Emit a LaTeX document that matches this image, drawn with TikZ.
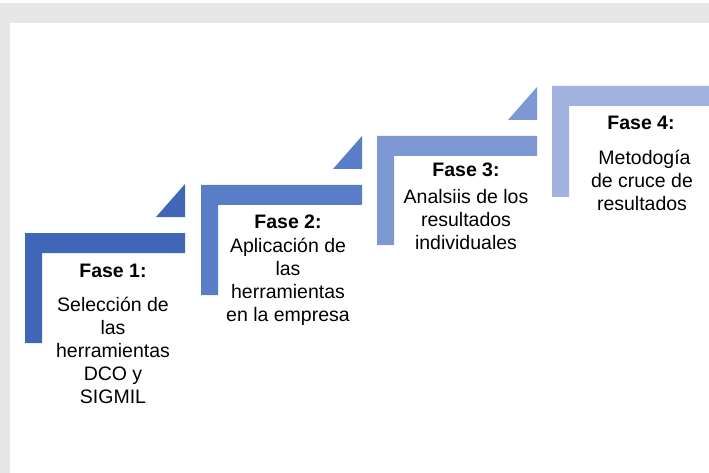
\documentclass[tikz,border=0pt]{standalone}
\usepackage{fontspec}
\setmainfont{Liberation Sans}
\definecolor{frame}{HTML}{E6E7E9}
\definecolor{stepA}{HTML}{3F67B6}
\definecolor{stepB}{HTML}{5A7DC8}
\definecolor{stepC}{HTML}{7E98D3}
\definecolor{stepD}{HTML}{A2B2DE}
\tikzset{
  title/.style={font=\fontsize{19.5}{23}\selectfont\bfseries},
  body/.style={font=\fontsize{19.5}{23}\selectfont,align=center,inner sep=0pt}
}

\begin{document}
\begin{tikzpicture}[x=1pt,y=-1pt]
\useasboundingbox (0,0) rectangle (709,473);
% grey frame (top band and left strip)
\fill[frame] (0,3) rectangle (709,23);
\fill[frame] (0,3) rectangle (10,473);
% steps: left x, top y, right x, bottom y, colour
\foreach \xl/\yt/\xr/\yb/\col in {25/233/185/343/stepA,201/185/362/295/stepB,377/136/537/245/stepC,552/86/709/197/stepD}{
  % L-shaped bracket
  \fill[\col] (\xl,\yt) -| (\xr,\yt+20) -| (\xl+17,\yb) -| cycle;
}
% small triangles at the right end of the first three steps
\foreach \xr/\yt/\col in {185/233/stepA,362/185/stepB,537/136/stepC}{
  \fill[\col] (\xr,\yt-16) -- (\xr-29,\yt-16) -- (\xr,\yt-49) -- cycle;
}
% phase titles
\node[title] (f1t) at (113,271) {Fase 1:};
\node[title] (f2t) at (288,222) {Fase 2:};
\node[title] (f3t) at (466,170) {Fase 3:};
\node[title] (f4t) at (641,123) {Fase 4:};
% phase texts
\node[body] (f1) at (113,350) {Selección de\\las\\herramientas\\DCO y\\SIGMIL};
\node[body] (f2) at (288,282) {Aplicación de\\las\\herramientas\\en la empresa};
\node[body] (f3) at (466,220) {Analsiis de los\\resultados\\individuales};
\node[body] (f4) at (642,180) {\hspace*{5pt}Metodogía\\de cruce de\\resultados};
\end{tikzpicture}
\end{document}
